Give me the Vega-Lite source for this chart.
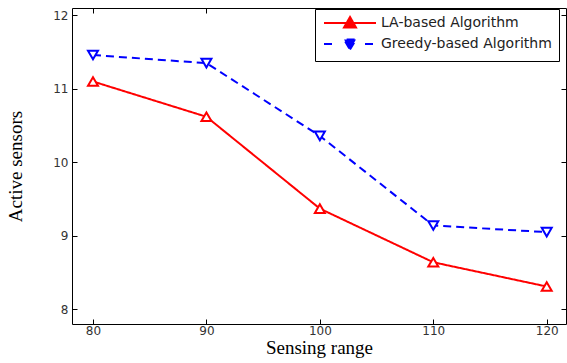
{
  "$schema": "https://vega.github.io/schema/vega-lite/v6.json",
  "width": 494,
  "height": 316,
  "autosize": {"type": "none"},
  "padding": {"left": 72, "top": 8, "right": 1, "bottom": 39},
  "background": "white",
  "config": {
    "view": {"stroke": "black", "strokeWidth": 1},
    "axis": {
      "grid": false,
      "domain": false,
      "tickColor": "black",
      "tickSize": -5,
      "labelFont": "DejaVu Sans",
      "labelFontSize": 12,
      "labelColor": "#333333",
      "titleFont": "Liberation Serif",
      "titleFontSize": 19,
      "titleFontWeight": "normal",
      "titleColor": "black"
    }
  },
  "data": {
    "values": [
      {"range": 80, "sensors": 11.1, "algo": "LA-based Algorithm"},
      {"range": 90, "sensors": 10.62, "algo": "LA-based Algorithm"},
      {"range": 100, "sensors": 9.37, "algo": "LA-based Algorithm"},
      {"range": 110, "sensors": 8.64, "algo": "LA-based Algorithm"},
      {"range": 120, "sensors": 8.31, "algo": "LA-based Algorithm"},
      {"range": 80, "sensors": 11.46, "algo": "Greedy-based Algorithm"},
      {"range": 90, "sensors": 11.35, "algo": "Greedy-based Algorithm"},
      {"range": 100, "sensors": 10.36, "algo": "Greedy-based Algorithm"},
      {"range": 110, "sensors": 9.14, "algo": "Greedy-based Algorithm"},
      {"range": 120, "sensors": 9.05, "algo": "Greedy-based Algorithm"}
    ]
  },
  "resolve": {"axis": {"x": "independent", "y": "independent"}},
  "layer": [
    {
      "mark": {"type": "line", "strokeWidth": 2},
      "encoding": {
        "x": {
          "field": "range", "type": "quantitative",
          "scale": {"domain": [78.15, 121.7], "nice": false, "zero": false},
          "axis": {"orient": "bottom", "values": [80, 90, 100, 110, 120], "title": "Sensing range", "labelPadding": 6, "titlePadding": 2}
        },
        "y": {
          "field": "sensors", "type": "quantitative",
          "scale": {"domain": [7.8, 12.1], "nice": false, "zero": false},
          "axis": {"orient": "left", "values": [8, 9, 10, 11, 12], "title": "Active sensors", "labelPadding": 9, "titlePadding": 27}
        },
        "color": {
          "field": "algo", "type": "nominal",
          "scale": {"domain": ["LA-based Algorithm", "Greedy-based Algorithm"], "range": ["#ff0000", "#0000ff"]},
          "legend": {
            "title": null,
            "orient": "none",
            "legendX": 243,
            "legendY": 1,
            "direction": "vertical",
            "strokeColor": "black",
            "fillColor": "white",
            "padding": 7,
            "cornerRadius": 0,
            "labelFont": "DejaVu Sans",
            "labelFontSize": 14,
            "labelLimit": 300,
            "labelColor": "#222222",
            "symbolSize": 100,
            "symbolStrokeWidth": 2,
            "labelOffset": 45,
            "rowPadding": 3,
            "encode": {
              "symbols": {
                "update": {
                  "shape": {"signal": "datum.value === 'LA-based Algorithm' ? 'M-1,0H9.4M4.2,-1.2L5.4,0.9L3,0.9Z' : 'M-1,0H1.2M7.2,0H9.4M4.2,1.1L5.4,-0.9L3,-0.9Z'"},
                  "fill": {"signal": "datum.value === 'LA-based Algorithm' ? '#ff0000' : '#0000ff'"},
                  "stroke": {"signal": "datum.value === 'LA-based Algorithm' ? '#ff0000' : '#0000ff'"},
                  "strokeDash": {"value": [1, 0]},
                  "strokeWidth": {"value": 2},
                  "opacity": {"value": 1}
                }
              }
            }
          }
        },
        "strokeDash": {
          "field": "algo", "type": "nominal",
          "scale": {"domain": ["LA-based Algorithm", "Greedy-based Algorithm"], "range": [[1, 0], [8, 5]]},
          "legend": null
        }
      }
    },
    {
      "mark": {"type": "point", "filled": false, "fill": "white", "fillOpacity": 1, "strokeWidth": 2, "size": 100, "opacity": 1},
      "encoding": {
        "x": {
          "field": "range", "type": "quantitative",
          "axis": {"orient": "top", "values": [80, 90, 100, 110, 120], "labels": false, "title": null}
        },
        "y": {
          "field": "sensors", "type": "quantitative",
          "axis": {"orient": "right", "values": [8, 9, 10, 11, 12], "labels": false, "title": null}
        },
        "color": {"field": "algo", "type": "nominal", "legend": null},
        "shape": {
          "condition": {"test": "datum.algo === 'LA-based Algorithm'", "value": "triangle-up"},
          "value": "triangle-down"
        }
      }
    }
  ]
}
